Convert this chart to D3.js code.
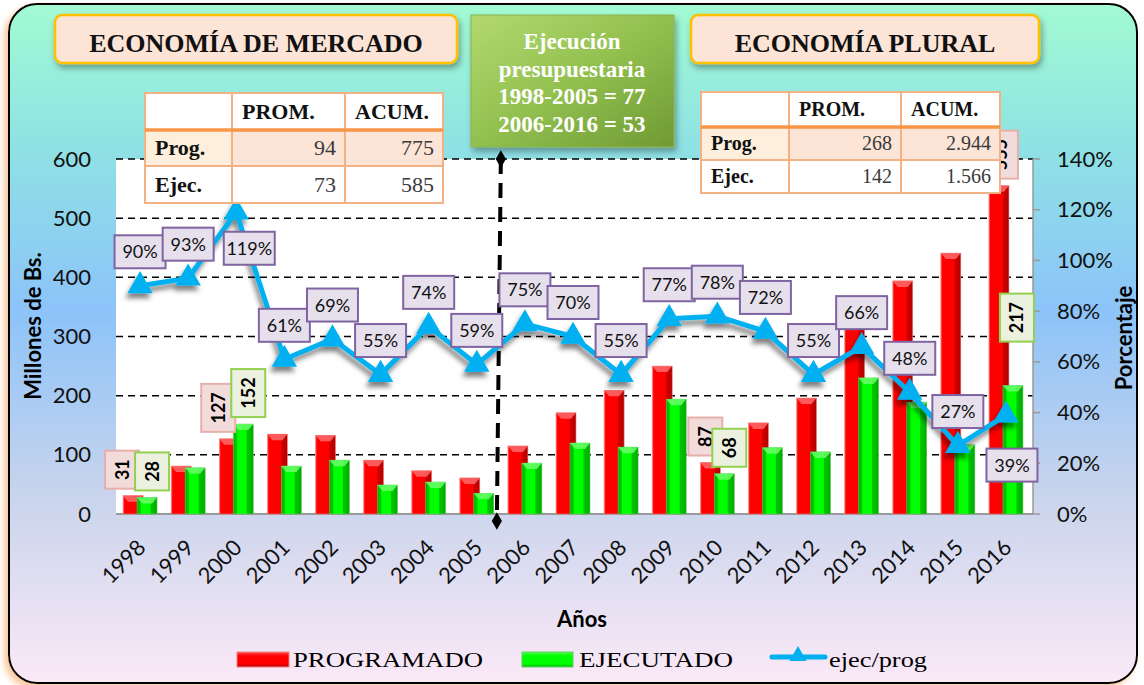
<!DOCTYPE html>
<html><head><meta charset="utf-8">
<script src="https://cdn.jsdelivr.net/npm/d3@7"></script>
<style>html,body{margin:0;padding:0;background:#fff;}svg{display:block;}</style>
</head><body>
<svg id="chart" width="1144" height="685"></svg>
<script>
// ---------- DATA ----------
const years = ["1998","1999","2000","2001","2002","2003","2004","2005","2006","2007","2008","2009","2010","2011","2012","2013","2014","2015","2016"];
const programado = [31,81,127,135,133,91,73,61,115,171,209,250,87,154,196,348,394,441,555];
const ejecutado  = [28,78,152,81,91,49,54,35,86,120,113,194,68,112,105,230,189,117,217];
const ejecProg   = [90,93,119,61,69,55,74,59,75,70,55,77,78,72,55,66,48,27,39];
const labeledYears = ["1998","2000","2010","2016"];
const leftTicks  = [0,100,200,300,400,500,600];
const rightTicks = [0,20,40,60,80,100,120,140];
const tableHeader = ["", "PROM.", "ACUM."];
const tableMercado = [["Prog.","94","775"],["Ejec.","73","585"]];
const tablePlural  = [["Prog.","268","2.944"],["Ejec.","142","1.566"]];
const titleLeft = "ECONOMÍA DE MERCADO";
const titleRight = "ECONOMÍA PLURAL";
const greenBoxLines = ["Ejecución","presupuestaria","1998-2005 = 77","2006-2016 = 53"];
const legendNames = ["PROGRAMADO","EJECUTADO","ejec/prog"];

// ---------- LAYOUT ----------
const svg = d3.select("#chart");
const plot = {left:116, right:1033, top:159, bottom:514};
const x = d3.scaleBand().domain(years).range([116,1030]).padding(0);
const y = d3.scaleLinear().domain([0,600]).range([plot.bottom, plot.top]);
const y2 = d3.scaleLinear().domain([0,140]).range([plot.bottom, plot.top]);
const cx = d => x(d) + x.bandwidth()/2;
const sans = "Lato, 'Open Sans', sans-serif";
const serif = "'Liberation Serif', 'Times New Roman', serif";

const defs = svg.append("defs");
const bg = defs.append("linearGradient").attr("id","bg").attr("x1",0).attr("y1",0).attr("x2",0).attr("y2",1);
[[0,"#a2fbd2"],[0.2,"#8fe3e3"],[0.45,"#8cc3f9"],[0.72,"#c8d4ec"],[1,"#fbe9f7"]].forEach(s=>bg.append("stop").attr("offset",s[0]).attr("stop-color",s[1]));
const gR = defs.append("linearGradient").attr("id","gR");
[[0,"#ff6060"],[0.08,"#ff0000"],[0.66,"#ff0000"],[0.72,"#cc0000"],[1,"#b40000"]].forEach(s=>gR.append("stop").attr("offset",s[0]).attr("stop-color",s[1]));
const gG = defs.append("linearGradient").attr("id","gG");
[[0,"#00b000"],[0.16,"#00cc00"],[0.22,"#00ff00"],[0.64,"#00ff00"],[0.7,"#00c800"],[1,"#00a800"]].forEach(s=>gG.append("stop").attr("offset",s[0]).attr("stop-color",s[1]));
const gRl = defs.append("linearGradient").attr("id","gRl").attr("x1",0).attr("y1",0).attr("x2",0).attr("y2",1);
[[0,"#ff5050"],[0.25,"#ff0000"],[0.75,"#ff0000"],[1,"#c00000"]].forEach(s=>gRl.append("stop").attr("offset",s[0]).attr("stop-color",s[1]));
const gGl = defs.append("linearGradient").attr("id","gGl").attr("x1",0).attr("y1",0).attr("x2",0).attr("y2",1);
[[0,"#50ff50"],[0.25,"#00ff00"],[0.75,"#00ff00"],[1,"#00c000"]].forEach(s=>gGl.append("stop").attr("offset",s[0]).attr("stop-color",s[1]));
const gBox = defs.append("linearGradient").attr("id","gBox").attr("x1",0).attr("y1",0).attr("x2",1).attr("y2",1);
[[0,"#b2d96f"],[0.5,"#92c04f"],[1,"#6f9a33"]].forEach(s=>gBox.append("stop").attr("offset",s[0]).attr("stop-color",s[1]));
const sh = defs.append("filter").attr("id","sh").attr("x","-20%").attr("y","-20%").attr("width","140%").attr("height","160%");
sh.append("feDropShadow").attr("dx",-2).attr("dy",5).attr("stdDeviation",2.5).attr("flood-color","#000").attr("flood-opacity",0.5);
const sh2 = defs.append("filter").attr("id","sh2").attr("x","-10%").attr("y","-20%").attr("width","130%").attr("height","160%");
sh2.append("feDropShadow").attr("dx",2).attr("dy",4).attr("stdDeviation",3).attr("flood-color","#000").attr("flood-opacity",0.35);
const shF = defs.append("filter").attr("id","shF").attr("x","-5%").attr("y","-5%").attr("width","110%").attr("height","110%");
shF.append("feDropShadow").attr("dx",-4).attr("dy",4).attr("stdDeviation",3).attr("flood-color","#f4a460").attr("flood-opacity",0.6);

// frame
svg.append("rect").attr("x",9).attr("y",4).attr("width",1128).attr("height",679).attr("rx",28)
  .attr("fill","url(#bg)").attr("stroke","#000").attr("stroke-width",2).attr("filter","url(#shF)");

// plot area
svg.append("rect").attr("x",plot.left).attr("y",plot.top).attr("width",plot.right-plot.left).attr("height",plot.bottom-plot.top).attr("fill","#fff");

// gridlines
svg.append("g").selectAll("line").data(leftTicks.filter(d=>d>0)).join("line")
  .attr("x1",plot.left).attr("x2",plot.right).attr("y1",d=>y(d)).attr("y2",d=>y(d))
  .attr("stroke","#000").attr("stroke-width",1.5).attr("stroke-dasharray","7,5");
svg.append("line").attr("x1",plot.left).attr("x2",plot.right).attr("y1",plot.bottom).attr("y2",plot.bottom).attr("stroke","#9a9a9a").attr("stroke-width",2);
svg.append("line").attr("x1",plot.right).attr("x2",plot.right).attr("y1",plot.top).attr("y2",plot.bottom).attr("stroke","#9a9a9a").attr("stroke-width",1.5);
svg.append("g").selectAll("line").data(rightTicks).join("line")
  .attr("x1",plot.right).attr("x2",plot.right+7).attr("y1",d=>y2(d)).attr("y2",d=>y2(d)).attr("stroke","#9a9a9a").attr("stroke-width",1.5);

// axes
const axL = svg.append("g").attr("transform",`translate(${plot.left},0)`).call(d3.axisLeft(y).tickValues(leftTicks).tickSize(0).tickPadding(25));
axL.select(".domain").remove();
axL.selectAll("text").attr("font-family",sans).attr("font-size",22).attr("fill","#111");
const axR = svg.append("g").attr("transform",`translate(${plot.right},0)`).call(d3.axisRight(y2).tickValues(rightTicks).tickFormat(d=>d+"%").tickSize(0).tickPadding(24));
axR.select(".domain").remove();
axR.selectAll("text").attr("font-family",sans).attr("font-size",22).attr("fill","#111");
const axB = svg.append("g").attr("transform",`translate(0,${plot.bottom})`).call(d3.axisBottom(x).tickSize(0).tickFormat(""));
axB.select(".domain").remove();
svg.append("g").selectAll("text").data(years).join("text")
  .attr("transform",d=>`translate(${cx(d)+7},${549}) rotate(-45)`)
  .attr("text-anchor","end").attr("font-family",sans).attr("font-size",22).attr("fill","#111").text(d=>d);

svg.append("text").attr("transform","translate(41,326) rotate(-90)").attr("text-anchor","middle")
  .attr("font-family",sans).attr("font-weight","bold").attr("font-size",22).text("Millones de Bs.");
svg.append("text").attr("transform","translate(1132,338) rotate(-90)").attr("text-anchor","middle")
  .attr("font-family",sans).attr("font-weight","bold").attr("font-size",22).text("Porcentaje");
svg.append("text").attr("x",582).attr("y",627).attr("text-anchor","middle")
  .attr("font-family",sans).attr("font-weight","bold").attr("font-size",22).text("Años");

// bars
function bar(g, xs, v, w, grad, bevel, stroke){
  const top = y(v), h = plot.bottom - top;
  g.append("rect").attr("x",xs).attr("y",top).attr("width",w).attr("height",h).attr("fill",`url(#${grad})`).attr("stroke",stroke).attr("stroke-width",0.6);
  g.append("path").attr("d",`M${xs},${top}L${xs+w},${top}L${xs+w-5},${top+6}L${xs+5},${top+6}Z`).attr("fill",bevel).attr("opacity",0.8);
}
const barsG = svg.append("g");
years.forEach((yr,i)=>{
  const c = cx(yr);
  bar(barsG, c-17, programado[i], 20, "gR", "#ff7070", "#f08080");
  bar(barsG, c-3, ejecutado[i], 20, "gG", "#70ff70", "#60d060");
});

// divider
const divX = (cx("2005")+cx("2006"))/2;
svg.append("line").attr("x1",divX).attr("y1",plot.top).attr("x2",divX-4).attr("y2",plot.bottom+7)
  .attr("stroke","#000").attr("stroke-width",4).attr("stroke-dasharray","15,9");
const diamond = d3.symbol().type(d3.symbolDiamond).size(90);
svg.append("path").attr("d",diamond()).attr("transform",`translate(${divX},${plot.top})`).attr("fill","#000");
svg.append("path").attr("d",diamond()).attr("transform",`translate(${divX-4},${plot.bottom+7})`).attr("fill","#000");

// bar labels
const barLabelShift = {"1998":[-18,12,0,0],"2000":[-18,12,0,0],"2010":[-12,12,0,0],"2016":[-5,11,0,-37]};
labeledYears.forEach(yr=>{
  const i = years.indexOf(yr), c = cx(yr), s = barLabelShift[yr];
  [[programado[i], s[0], s[2], "#f2dcdb","#e6b0aa"],[ejecutado[i], s[1], s[3], "#ebf1de","#92d050"]].forEach(([v,dx,dy,fill,stroke])=>{
    const t = String(v), h = t.length*10 + 18, w = 34;
    const yc = y(v) - h/2 - 7 + dy, xc = c + dx;
    const g = svg.append("g").attr("transform",`translate(${xc},${yc})`);
    g.append("rect").attr("x",-w/2).attr("y",-h/2).attr("width",w).attr("height",h).attr("fill",fill).attr("stroke",stroke).attr("stroke-width",2);
    g.append("text").attr("transform","rotate(-90)").attr("text-anchor","middle").attr("dy","0.36em")
      .attr("font-family",sans).attr("font-weight","bold").attr("font-size",18).text(t);
  });
});

// line
const lineG = svg.append("g").attr("filter","url(#sh)");
lineG.append("path").datum(ejecProg).attr("fill","none").attr("stroke","#00b0f0").attr("stroke-width",5).attr("stroke-linejoin","round")
  .attr("d",d3.line().x((d,i)=>cx(years[i])).y(d=>y2(d)));
const tri = d3.symbol().type(d3.symbolTriangle).size(280);
lineG.selectAll("path.m").data(ejecProg).join("path").attr("class","m").attr("d",tri())
  .attr("transform",(d,i)=>`translate(${cx(years[i])},${y2(d)})`).attr("fill","#00b0f0");

// percent labels
const pctShift = {"2000":[13,36],"2016":[6,50]};
ejecProg.forEach((v,i)=>{
  const s = pctShift[years[i]] || [0,-34];
  const g = svg.append("g").attr("transform",`translate(${cx(years[i])+s[0]},${y2(v)+s[1]})`);
  g.append("rect").attr("x",-25.5).attr("y",-16.5).attr("width",51).attr("height",33).attr("fill","#e5e0ec").attr("stroke","#8064a2").attr("stroke-width",2);
  g.append("text").attr("text-anchor","middle").attr("dy","0.36em").attr("font-family",sans).attr("font-size",18).attr("fill","#111").text(v+"%");
});

// title boxes
function titleBox(x0,y0,w,h,txt){
  svg.append("rect").attr("x",x0).attr("y",y0).attr("width",w).attr("height",h).attr("rx",7)
    .attr("fill","#fce4d6").attr("stroke","#ffc000").attr("stroke-width",2.5).attr("filter","url(#sh2)");
  svg.append("text").attr("x",x0+w/2).attr("y",y0+37).attr("text-anchor","middle").attr("font-family",serif)
    .attr("font-weight","bold").attr("font-size",26).attr("fill","#111").text(txt);
}
titleBox(55,15,402,48,titleLeft);
titleBox(691,15,348,48,titleRight);

// green box
svg.append("rect").attr("x",471).attr("y",15).attr("width",203).attr("height",132).attr("fill","url(#gBox)")
  .attr("stroke","#8ab34a").attr("stroke-width",1).attr("filter","url(#sh2)");
greenBoxLines.forEach((t,i)=>{
  svg.append("text").attr("x",572).attr("y",49+i*27.5).attr("text-anchor","middle").attr("font-family",serif)
    .attr("font-weight","bold").attr("font-size",23).attr("fill","#fff").text(t);
});

// tables
function table(cols, rows, rowsData, fs){
  const g = svg.append("g");
  const fills = [["#fff","#fff","#fff"],["#fdefdc","#fce4d6","#fce4d6"],["#fff","#fff","#fff"]];
  const data = [tableHeader].concat(rowsData);
  for(let r=0;r<3;r++) for(let c=0;c<3;c++){
    g.append("rect").attr("x",cols[c]).attr("y",rows[r]).attr("width",cols[c+1]-cols[c]).attr("height",rows[r+1]-rows[r])
      .attr("fill",fills[r][c]).attr("stroke","#f4b183").attr("stroke-width",2);
  }
  g.append("line").attr("x1",cols[0]).attr("x2",cols[3]).attr("y1",rows[1]).attr("y2",rows[1]).attr("stroke","#f79646").attr("stroke-width",3.5);
  for(let r=0;r<3;r++) for(let c=0;c<3;c++){
    const t = data[r][c]; if(!t) continue;
    const base = (rows[r]+rows[r+1])/2 + fs*0.33;
    const isNum = r>0 && c>0;
    g.append("text").attr("x", isNum ? cols[c+1]-9 : cols[c]+10).attr("y",base)
      .attr("text-anchor", isNum ? "end":"start").attr("font-family",serif)
      .attr("font-weight", isNum ? "normal":"bold").attr("font-size",fs).attr("fill", isNum ? "#3a3a3a":"#111").text(t);
  }
}
table([145,232,345,443],[93,130,166,203],tableMercado,22);
table([701,789,901,1000],[92,127,160,193],tablePlural,20);

// legend
const leg = svg.append("g");
leg.append("rect").attr("x",237).attr("y",652).attr("width",52).attr("height",15).attr("fill","url(#gRl)").attr("stroke","#f08080");
leg.append("text").attr("x",293).attr("y",667).attr("font-family",serif).attr("font-size",22).attr("textLength",190).attr("lengthAdjust","spacingAndGlyphs").text(legendNames[0]);
leg.append("rect").attr("x",522).attr("y",652).attr("width",51).attr("height",15).attr("fill","url(#gGl)").attr("stroke","#60d060");
leg.append("text").attr("x",579).attr("y",667).attr("font-family",serif).attr("font-size",22).attr("textLength",154).attr("lengthAdjust","spacingAndGlyphs").text(legendNames[1]);
leg.append("line").attr("x1",772).attr("x2",825).attr("y1",657).attr("y2",657).attr("stroke","#00b0f0").attr("stroke-width",5).attr("stroke-linecap","round");
leg.append("path").attr("d",d3.symbol().type(d3.symbolTriangle).size(130)()).attr("transform","translate(798,656)").attr("fill","#00b0f0");
leg.append("text").attr("x",829).attr("y",667).attr("font-family",serif).attr("font-size",22).attr("textLength",98).attr("lengthAdjust","spacingAndGlyphs").text(legendNames[2]);
</script>
</body></html>
